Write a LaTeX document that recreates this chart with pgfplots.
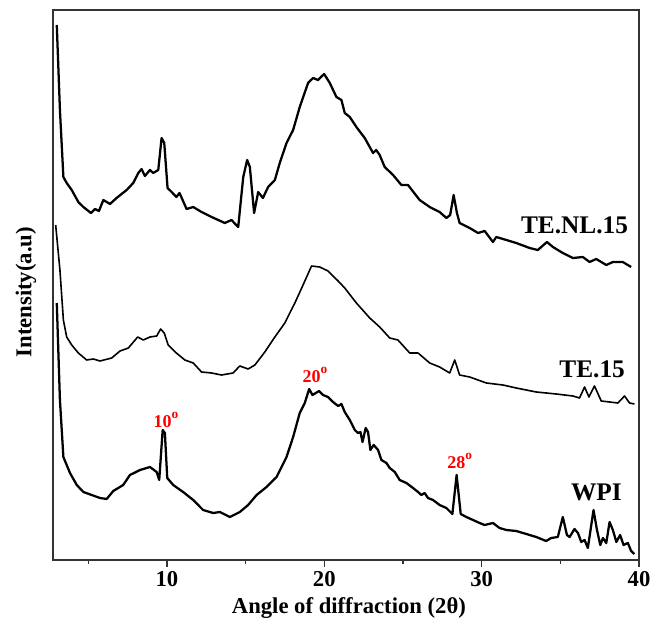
\documentclass[border=0pt]{standalone}
\usepackage{fontspec}
\setmainfont{Liberation Serif}
\usepackage{pgfplots}
\pgfplotsset{compat=1.18}

% XRD patterns, offset vertically (a.u.)
\pgfplotstableread{
x y
3.00 535
3.20 450
3.42 383
3.63 377
3.95 370
4.37 358
4.69 353
5.17 347
5.43 351
5.68 349
5.96 360
6.38 356
6.80 362
7.44 370
7.86 377
8.18 387
8.39 391
8.60 384
8.92 390
9.13 387
9.45 390
9.66 422
9.83 417
10.04 372
10.30 368
10.60 363
10.80 367
11.25 351
11.67 353
12.20 348
12.84 343
13.68 337
14.10 340
14.53 333
14.85 383
15.10 400
15.27 393
15.54 347
15.80 368
16.10 362
16.43 373
16.86 380
17.17 397
17.60 417
18.02 430
18.44 453
18.97 477
19.29 482
19.60 480
19.99 486
20.35 477
20.77 463
21.09 460
21.30 447
21.62 443
22.04 433
22.57 422
23.10 407
23.30 410
23.52 405
23.84 393
24.37 385
24.90 375
25.32 375
26.06 360
26.70 353
27.33 348
27.76 342
28.00 345
28.22 365
28.43 347
28.60 337
29.24 332
29.77 327
30.19 329
30.72 318
30.93 323
31.57 320
32.20 317
33.05 312
33.57 310
34.15 318
34.53 313
35.16 307
35.80 302
36.43 303
36.86 298
37.28 301
37.92 295
38.34 298
38.97 298
39.50 293
}\tenl

\pgfplotstableread{
x y
2.93 335
3.20 290
3.42 240
3.63 223
3.95 215
4.37 207
4.90 200
5.32 201
5.75 199
6.49 202
7.02 209
7.55 212
8.14 223
8.50 220
8.92 223
9.35 224
9.60 231
9.83 227
10.08 215
10.60 207
11.14 200
11.67 197
12.20 188
12.84 187
13.47 185
14.20 187
14.63 194
15.16 191
15.59 195
16.22 208
16.86 223
17.49 237
18.13 257
18.65 275
19.19 294
19.71 293
20.24 289
20.88 279
21.30 272
22.04 257
22.89 242
23.52 233
24.16 222
24.68 220
25.43 207
25.96 207
26.70 197
27.33 193
27.97 187
28.29 200
28.60 185
29.24 183
30.30 177
31.35 175
32.20 172
33.47 168
34.74 166
35.80 164
36.22 162
36.54 173
36.82 163
37.17 174
37.60 159
38.13 158
38.66 157
39.08 164
39.40 157
39.71 156
}\tefifteen

\pgfplotstableread{
x y
3.00 257
3.20 160
3.42 103
3.84 87
4.27 75
4.69 68
5.22 65
5.75 62
6.17 61
6.59 69
7.22 75
7.65 85
8.29 90
8.92 93
9.35 88
9.51 80
9.73 130
9.87 127
10.02 82
10.40 75
11.03 68
11.67 60
12.30 50
12.94 47
13.37 48
14.00 43
14.63 48
15.16 55
15.70 65
16.33 73
16.97 83
17.60 103
18.02 123
18.44 147
18.76 157
19.04 171
19.25 165
19.46 167
19.67 169
19.92 165
20.24 163
20.56 158
20.88 154
21.09 156
21.30 148
21.62 140
21.94 130
22.14 127
22.30 128
22.43 118
22.63 132
22.78 128
22.93 110
23.14 115
23.42 110
23.63 100
23.95 97
24.16 92
24.48 88
24.79 80
25.22 77
25.64 72
25.96 68
26.17 65
26.38 67
26.59 62
26.91 60
27.33 55
27.76 52
28.14 46
28.41 85
28.67 46
29.03 43
29.45 40
29.87 37
30.19 35
30.72 37
31.14 32
31.57 30
32.20 29
32.84 26
33.47 23
34.10 19
34.42 22
34.84 23
35.16 43
35.42 25
35.59 23
35.90 31
36.12 27
36.33 18
36.54 20
36.75 12
37.11 50
37.33 30
37.54 15
37.71 22
37.92 17
38.13 38
38.34 30
38.56 18
38.80 25
39.02 15
39.29 17
39.50 9
39.71 6
}\wpi

\newcommand{\degsup}{\raisebox{1.0ex}{\fontsize{10}{11}\selectfont o}}

\begin{document}
\begin{tikzpicture}
\useasboundingbox (0,0) rectangle (492.75pt,469.5pt);
\begin{axis}[
   at={(39.75pt,49.5pt)}, anchor=south west,
   scale only axis, width=439.5pt, height=412.5pt,
   xmin=2.76, xmax=40, ymin=0, ymax=550,
   xtick={10,20,30,40}, minor xtick={5,15,25,35},
   ytick=\empty,
   xtick pos=bottom, tick align=outside,
   major tick length=5pt, minor tick length=3pt,
   tick style={black!80, line width=0.9pt},
   axis line style={black!80, line width=1.1pt},
   /pgf/number format/assume math mode=true,
   x tick label style={font=\fontsize{17}{19}\selectfont\bfseries},
   xlabel={Angle of diffraction (2θ)},
   ylabel={Intensity(a.u)},
   label style={font=\fontsize{17}{19}\selectfont\bfseries},
   xlabel style={at={(axis description cs:0.505,-0.087)}, anchor=center},
   ylabel style={at={(axis description cs:-0.046,0.487)}, anchor=center},
   every axis plot/.append style={black, line join=round},
   clip=false,
   ]
\addplot[line width=1.7pt] table {\tenl};
\addplot[line width=1.2pt] table {\tefifteen};
\addplot[line width=1.7pt] table {\wpi};

\node[anchor=east, font=\fontsize{19}{21}\selectfont\bfseries] at (axis cs:39.6,335) {TE.NL.15};
\node[anchor=east, font=\fontsize{19}{21}\selectfont\bfseries] at (axis cs:39.4,191) {TE.15};
\node[anchor=east, font=\fontsize{19}{21}\selectfont\bfseries] at (axis cs:39.2,68) {WPI};

\node[anchor=base, red, font=\fontsize{13.5}{15}\selectfont\bfseries] at (axis cs:9.94,133) {10\degsup};
\node[anchor=base, red, font=\fontsize{13.5}{15}\selectfont\bfseries] at (axis cs:19.4,178) {20\degsup};
\node[anchor=base, red, font=\fontsize{13.5}{15}\selectfont\bfseries] at (axis cs:28.6,92) {28\degsup};
\end{axis}
\end{tikzpicture}
\end{document}
